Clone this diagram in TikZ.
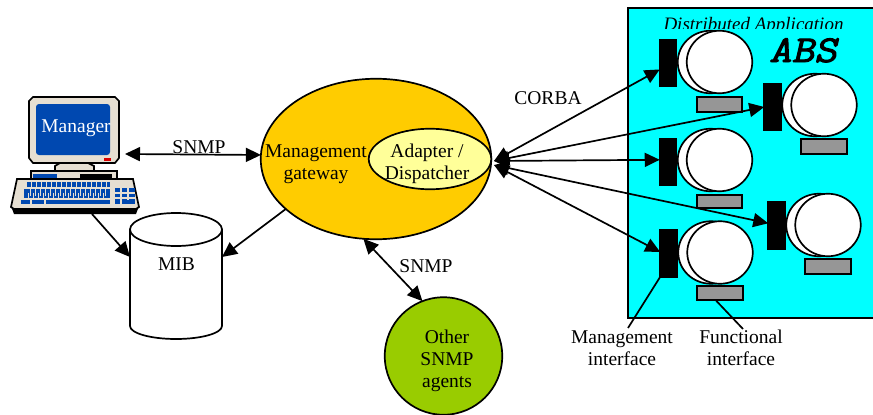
\documentclass[tikz,border=0pt]{standalone}
\usepackage{fontspec}
\usepackage{xcolor}
\setmainfont{Liberation Serif}
\newfontfamily\absfont[FakeBold=2.5,FakeSlant=0.2]{Latin Modern Mono}
\usetikzlibrary{arrows.meta,shapes.geometric}
\definecolor{appcyan}{HTML}{00FFFF}
\definecolor{gwyellow}{HTML}{FFCC00}
\definecolor{adpyellow}{HTML}{FFFF99}
\definecolor{agentgreen}{HTML}{99CC00}
\definecolor{ifgray}{HTML}{969696}
\definecolor{pcbeige}{HTML}{E6DFD2}
\definecolor{pcblue}{HTML}{0048B0}
\tikzset{
  lbl/.style={inner sep=0pt, anchor=base, align=center, font=\fontsize{19.5}{22}\selectfont},
  part/.style={draw, line width=1.7pt, inner sep=0pt, outer sep=0pt},
  arr/.style={-{Triangle[length=15pt,width=14pt]}, line width=1.7pt},
  dblarr/.style={{Triangle[length=15pt,width=14pt]}-{Triangle[length=15pt,width=14pt]}, line width=1.7pt},
  plainline/.style={line width=1.7pt}
}

\begin{document}
\begin{tikzpicture}[x=1pt,y=-1pt]
\useasboundingbox (0,0) rectangle (873,415);

\node[part, fill=appcyan, minimum width=250pt, minimum height=310pt] (application) at (753,163) {};
\begin{scope}
\clip (650,10) rectangle (860,28.5);
\node[lbl, font=\fontsize{19}{22}\selectfont\itshape] (apptitle) at (753.5,30) {Distributed Application};
\end{scope}
\node[lbl, xscale=1.15, transform shape, font=\fontsize{38}{38}\selectfont\absfont] (abs) at (803,62) {ABS};

\foreach \n/\x/\y/\cy/\by/\bh in {1/668/63/62/104.5/15.5, 2/772.5/107/105/146.5/15.5, 3/668/162/160/201.5/13.5, 4/776.5/225.5/225/266.5/15.5, 5/668.5/253.5/252.5/293/13.5} {
  \node[part, fill=white, ellipse, minimum width=65.5pt, minimum height=62.5pt] (back\n) at (\x+42.5,\cy) {};
  \node[part, fill=white, ellipse, minimum width=65.5pt, minimum height=62.5pt] (obj\n) at (\x+51.5,\cy) {};
  \node[part, fill=black, minimum width=16.5pt, minimum height=46.5pt] (bar\n) at (\x,\y) {};
  \node[part, fill=ifgray, minimum width=45.5pt, minimum height=\bh pt] (func\n) at (\x+51.5,\by) {};
}

\node[part, ellipse, fill=gwyellow, minimum width=230.5pt, minimum height=160.5pt] (gateway) at (376,159) {};
\node[part, ellipse, fill=adpyellow, minimum width=122.5pt, minimum height=60.5pt] (adapter) at (430,159) {};
\node[lbl] (gwlabel) at (316,179) {Management\\gateway};
\node[lbl] (adlabel) at (427,179) {Adapter /\\Dispatcher};

\node[part, circle, fill=agentgreen, minimum size=117.5pt] (other) at (443.5,356) {};
\node[lbl] (otherlabel) at (447,387) {Other\\SNMP\\agents};

\draw[plainline, fill=white] (130,229.5) -- (130,326) arc[start angle=180, end angle=0, x radius=46, y radius=13] -- (222,229.5) -- cycle;
\node[part, ellipse, fill=white, minimum width=92pt, minimum height=33pt] (mibtop) at (176,229.5) {};
\node[lbl] (miblabel) at (176.5,270) {MIB};

% computer
\draw[plainline, fill=pcbeige] (33,97) -- (115,97) -- (119,101) -- (119,158) -- (115,163) -- (33,163) -- (29,158) -- (29,101) -- cycle;
\node[fill=pcblue, rounded corners=3pt, minimum width=74pt, minimum height=51pt, inner sep=0pt] (screen) at (73,129.5) {};
\node[lbl, text=white] (mgrlabel) at (76,132) {Manager};
\fill[red!85!black] (104,158) rectangle (111,161);
\draw[plainline, fill=pcbeige] (55,171) -- (55,166) -- (60,163) -- (88,163) -- (94,166) -- (94,171) -- cycle;
\draw[plainline, fill=pcbeige] (31,179) -- (31,171) -- (117,171) -- (117,179) -- cycle;
\fill[pcblue] (33,174) rectangle (57,179);
\fill[black] (80,174) rectangle (112,179);
\fill[black] (11,206) -- (14,214) -- (136,214) -- (139,206) -- cycle;
\draw[plainline, fill=pcbeige] (17,179) -- (133,179) -- (139,207) -- (136,209) -- (14,209) -- (11,207) -- cycle;
\fill[pcblue] (27,182) rectangle (110,187);
\fill[pcblue] (24,189) rectangle (110,198);
\fill[pcblue] (21,200) rectangle (110,204);
\fill[pcblue] (115,188) rectangle (135,204);
\foreach \i in {0,...,15} {
  \fill[pcbeige] (31+\i*5,182) rectangle (32+\i*5,187);
  \fill[pcbeige] (30+\i*5,189) rectangle (31+\i*5,196);
  \fill[pcbeige] (28+\i*5,193) rectangle (29+\i*5,198);
}
\fill[pcbeige] (30,200) rectangle (32,204);
\fill[pcbeige] (44,200) rectangle (46,204);
\fill[pcbeige] (115,192) rectangle (135,193.5);
\fill[pcbeige] (115,197) rectangle (135,198.5);
\fill[pcbeige] (120,188) rectangle (121.5,204);
\fill[pcbeige] (127,188) rectangle (128.5,200);
\coordinate (mgrright) at (125,154);
\coordinate (mgrbottom) at (92,214);
\coordinate (mibleft) at (130,257);
\coordinate (mibright) at (222,257);
\coordinate (adupper) at (494,161);
\coordinate (adlower) at (494,165);
\coordinate (mgmtend) at (628,328);
\coordinate (funcend) at (743,329);

\path[dblarr] (mgrright) edge (gateway.178);
\path[arr] (mgrbottom) edge (mibleft);
\path[arr] (gateway.209) edge (mibright);
\path[dblarr] (gateway.261) edge (other.111);
\path[dblarr] (adupper) edge (bar1.218);
\path[dblarr] (adupper) edge (bar2.west);
\path[dblarr] (adupper) edge (bar3.165);
\path[dblarr] (adlower) edge (bar4.165);
\path[dblarr] (adlower) edge (bar5.170);
\path[plainline] (bar5.south west) edge (mgmtend);
\path[plainline] (func5.-125) edge (funcend);

\node[lbl] (snmpleft) at (199,153) {SNMP};
\node[lbl] (snmpbottom) at (426,272) {SNMP};
\node[lbl] (corba) at (548,104) {CORBA};
\node[lbl] (mgmtlabel) at (622,365) {Management\\interface};
\node[lbl] (funclabel) at (741,365) {Functional\\interface};

\end{tikzpicture}
\end{document}
